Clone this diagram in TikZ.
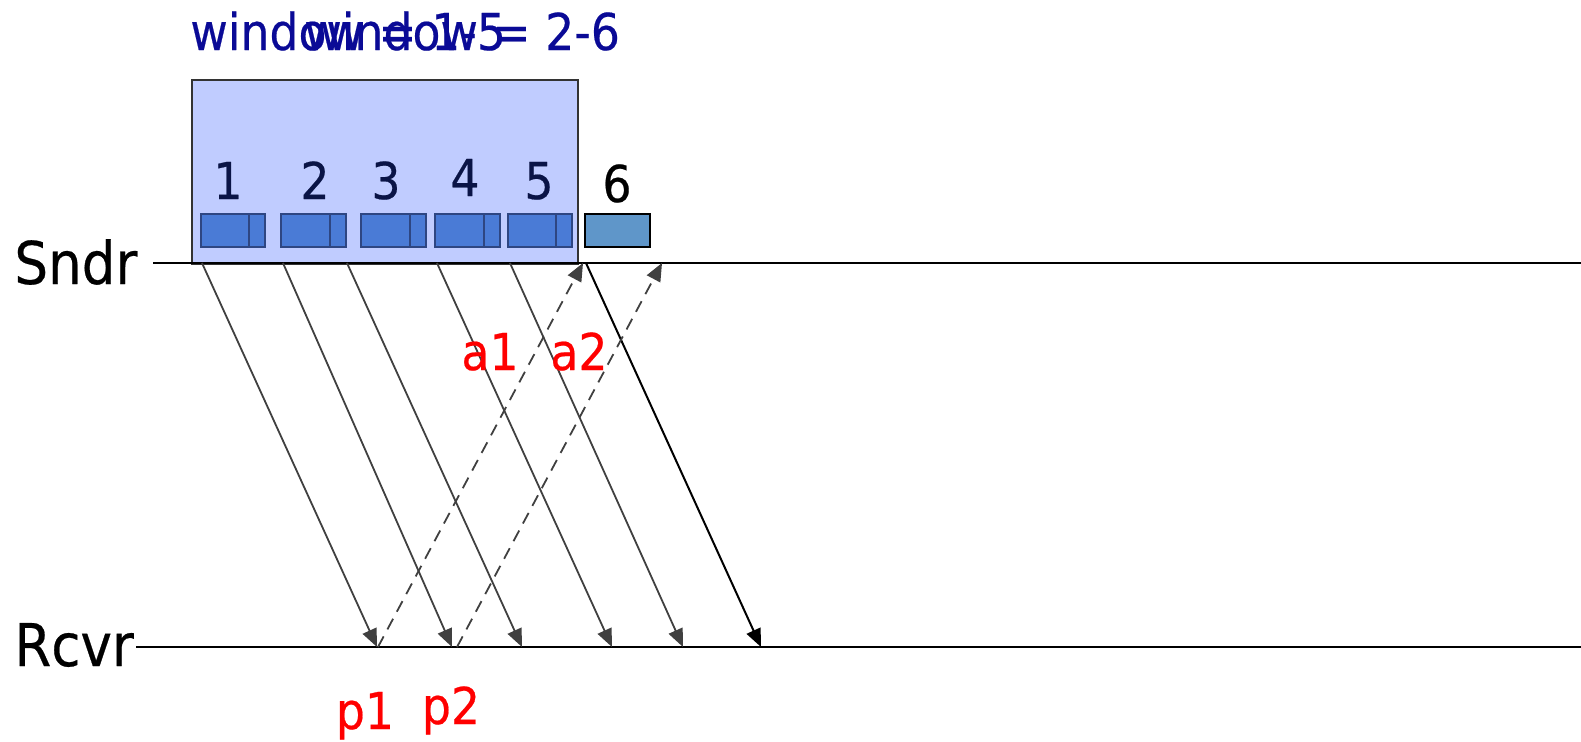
\documentclass[tikz,border=0pt]{standalone}
\usepackage{fontspec}
\setmainfont{DejaVu Sans}[FakeStretch=0.9, FakeBold=0.4]
\usetikzlibrary{arrows.meta}
\definecolor{winfill}{RGB}{192,204,255}
\definecolor{pktfill}{RGB}{74,123,214}
\definecolor{pktdraw}{RGB}{46,70,130}
\definecolor{pkt6fill}{RGB}{95,150,201}
\definecolor{wintext}{RGB}{10,10,150}
\definecolor{numtext}{RGB}{10,20,70}
\definecolor{datagray}{RGB}{64,64,64}
\tikzset{
  wintxt/.style={text=wintext, font=\fontsize{25.4}{28}\selectfont, inner sep=0pt, anchor=base west},
  numtxt/.style={text=numtext, font=\fontsize{25.4}{28}\selectfont, inner sep=0pt, anchor=base},
  redtxt/.style={text=red, font=\fontsize{25.4}{28}\selectfont, inner sep=0pt, anchor=base},
  sidetxt/.style={text=black, font=\fontsize{29.5}{32}\selectfont, inner sep=0pt, anchor=west},
  pkt/.style={draw=pktdraw, fill=pktfill, line width=1pt},
  pktsix/.style={draw=black, fill=pkt6fill, line width=1pt},
  timeline/.style={draw=black, line width=1pt},
  tip/.style={-{Triangle[length=9pt,width=7.5pt]}},
  data/.style={draw=datagray, line width=0.9pt, tip},
  datablack/.style={draw=black, line width=1pt, tip},
  ack/.style={draw=datagray, line width=0.9pt, dash pattern=on 6pt off 4pt, tip},
}
\begin{document}
\begin{tikzpicture}[x=0.5pt,y=-0.5pt]
\useasboundingbox (0,0) rectangle (1581,741);
% window box
\node[draw=black!80, fill=winfill, line width=1pt, minimum width=193pt, minimum height=92pt, inner sep=0pt, anchor=north west] (win) at (191,79) {};
% window labels
\node[wintxt] (w15) at (190,50) {window = 1-5};
\node[wintxt] (w26) at (304,50) {window = 2-6};
% packets
\foreach \i/\a/\d/\b in {1/201/249/265, 2/281/330/346, 3/361/410/426, 4/435/484/500, 5/508/556/572}{
  \path[pkt] (\a,214) rectangle (\b,247);
  \draw[draw=pktdraw, line width=1pt] (\d,214) -- (\d,247);
}
\path[pktsix] (585,214) rectangle (650,247);
% packet numbers
\node[numtxt] (n1) at (228,199) {1};
\node[numtxt] (n2) at (315,199) {2};
\node[numtxt] (n3) at (386,199) {3};
\node[numtxt] (n4) at (465,196) {4};
\node[numtxt] (n5) at (539,199) {5};
\node[numtxt, text=black] (n6) at (617,202) {6};
% timelines
\node[sidetxt] (sndr) at (14,262) {Sndr};
\node[sidetxt] (rcvr) at (14,645) {Rcvr};
\coordinate (sl) at (153,263);
\coordinate (sr) at (1581,263);
\coordinate (rl) at (136,647);
\coordinate (rr) at (1581,647);
\draw[timeline] (sl) -- (sr);
\draw[timeline] (rl) -- (rr);
% data arrows
\coordinate (s1) at (202,263); \coordinate (r1) at (377,647);
\coordinate (s2) at (283,263); \coordinate (r2) at (452,647);
\coordinate (s3) at (347,263); \coordinate (r3) at (522,647);
\coordinate (s4) at (437,263); \coordinate (r4) at (612,647);
\coordinate (s5) at (510,263); \coordinate (r5) at (683,647);
\coordinate (s6) at (586,263); \coordinate (r6) at (761,647);
\draw[data] (s1) -- (r1);
\draw[data] (s2) -- (r2);
\draw[data] (s3) -- (r3);
\draw[data] (s4) -- (r4);
\draw[data] (s5) -- (r5);
\draw[datablack] (s6) -- (r6);
% acks
\coordinate (p1b) at (378,647); \coordinate (a1t) at (583,263);
\coordinate (p2b) at (457,647); \coordinate (a2t) at (662,263);
\draw[ack] (p1b) -- (a1t);
\draw[ack] (p2b) -- (a2t);
% red labels
\node[redtxt] (a1) at (490,370) {a1};
\node[redtxt] (a2) at (579,370) {a2};
\node[redtxt] (p1) at (365,729) {p1};
\node[redtxt] (p2) at (451,724) {p2};
\end{tikzpicture}
\end{document}
